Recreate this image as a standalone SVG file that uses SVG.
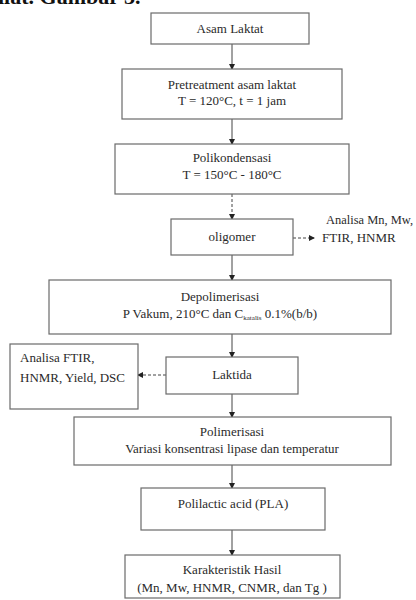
<svg xmlns="http://www.w3.org/2000/svg" width="416" height="600" viewBox="0 0 416 600">
<style>
.b{fill:#fff;stroke:#6a6a6a;stroke-width:1.2}
.t{font-size:13px;fill:#2a2a2a;text-anchor:middle}
.l{font-size:13px;fill:#2a2a2a}
.c{stroke:#444;stroke-width:1;fill:none}
.d{stroke:#444;stroke-width:1;fill:none;stroke-dasharray:3,2}
</style>
<defs>
<marker id="ah" markerWidth="6" markerHeight="6" refX="5" refY="3" orient="auto" markerUnits="userSpaceOnUse">
<path d="M0,0 L6,3 L0,6 Z" fill="#222"/>
</marker>
</defs>
<rect width="416" height="600" fill="#fff"/>
<text x="-2" y="4" font-family="Liberation Serif, serif" font-size="22" font-weight="bold" fill="#111">ılat. Gambar 3.</text>
<g id="connectors">
<line class="c" x1="232" y1="44" x2="232" y2="69" marker-end="url(#ah)"/>
<line class="c" x1="232" y1="119" x2="232" y2="144" marker-end="url(#ah)"/>
<line class="d" x1="232" y1="194" x2="232" y2="219" marker-end="url(#ah)"/>
<line class="d" x1="293" y1="238" x2="314" y2="238" marker-end="url(#ah)"/>
<line class="c" x1="232" y1="255" x2="232" y2="280" marker-end="url(#ah)"/>
<line class="c" x1="232" y1="334" x2="232" y2="357" marker-end="url(#ah)"/>
<line class="d" x1="166" y1="375" x2="138" y2="375" marker-end="url(#ah)"/>
<line class="c" x1="232" y1="394" x2="232" y2="417" marker-end="url(#ah)"/>
<line class="c" x1="232" y1="465" x2="232" y2="488" marker-end="url(#ah)"/>
<line class="c" x1="232" y1="530" x2="232" y2="555" marker-end="url(#ah)"/>
</g>
<g font-family="Liberation Serif, Times New Roman, serif">
<g id="asam"><rect class="b" x="151" y="13" width="158" height="31"/><text class="t" x="230" y="33">Asam Laktat</text></g>
<g id="pretreatment"><rect class="b" x="122" y="69" width="220" height="50"/><text class="t" x="232" y="89">Pretreatment asam laktat</text><text class="t" x="232" y="105">T = 120°C, t = 1 jam</text></g>
<g id="polikondensasi"><rect class="b" x="115" y="144" width="234" height="50"/><text class="t" x="232" y="162">Polikondensasi</text><text class="t" x="232" y="179">T = 150°C - 180°C</text></g>
<g id="oligomer"><rect class="b" x="171" y="219" width="122" height="36"/><text class="t" x="232" y="241">oligomer</text></g>
<g id="analisa1"><text class="l" x="326" y="224" textLength="87" lengthAdjust="spacingAndGlyphs">Analisa Mn, Mw,</text><text class="l" x="322" y="242">FTIR, HNMR</text></g>
<g id="depolimerisasi"><rect class="b" x="49" y="280" width="342" height="54"/><text class="t" x="220" y="301">Depolimerisasi</text><text class="t" x="220" y="318">P Vakum, 210°C dan C<tspan font-size="7" dy="2">katalis</tspan><tspan dy="-2"> 0.1%(b/b)</tspan></text></g>
<g id="analisa2"><rect class="b" x="10" y="344" width="128" height="65"/><text class="l" x="20" y="362">Analisa FTIR,</text><text class="l" x="20" y="382">HNMR, Yield, DSC</text></g>
<g id="laktida"><rect class="b" x="166" y="357" width="132" height="37"/><text class="t" x="232" y="379">Laktida</text></g>
<g id="polimerisasi"><rect class="b" x="74" y="417" width="317" height="48"/><text class="t" x="232" y="436">Polimerisasi</text><text class="t" x="232" y="453">Variasi konsentrasi lipase dan temperatur</text></g>
<g id="pla"><rect class="b" x="141" y="488" width="184" height="42"/><text class="t" x="233" y="508">Polilactic acid (PLA)</text></g>
<g id="karakteristik"><rect class="b" x="125" y="555" width="215" height="43"/><text class="t" x="232" y="574">Karakteristik Hasil</text><text class="t" x="232" y="592">(Mn, Mw, HNMR, CNMR, dan Tg )</text></g>
</g>
</svg>
